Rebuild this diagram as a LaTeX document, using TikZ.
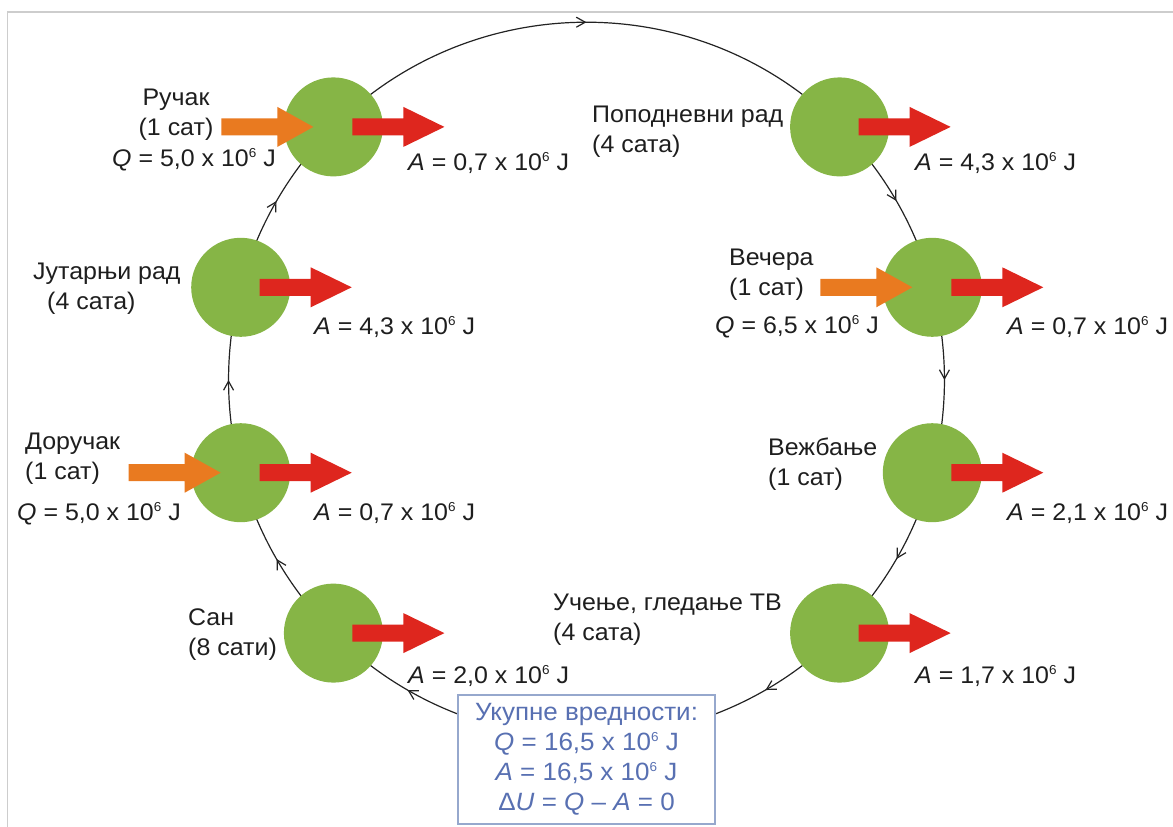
\documentclass[tikz,border=0pt]{standalone}
\usepackage{fontspec}
\setmainfont{Liberation Sans}[FakeStretch=1.04]
\usetikzlibrary{decorations.markings,backgrounds,arrows.meta}
\definecolor{dotgreen}{RGB}{134,181,70}
\definecolor{outred}{RGB}{222,38,30}
\definecolor{inorange}{RGB}{233,122,32}
\definecolor{framegray}{RGB}{205,205,205}
\definecolor{boxblue}{RGB}{88,112,178}
\definecolor{boxline}{RGB}{150,168,205}
\definecolor{cyc}{RGB}{35,35,35}
\definecolor{txt}{RGB}{30,30,30}
\newcommand\pwsix{\raisebox{0.36em}{\fontsize{13}{13}\selectfont 6}}
\tikzset{
  dot/.style={circle, fill=dotgreen, minimum size=99pt, inner sep=0pt},
  lbl/.style={font=\fontsize{24}{30}\selectfont, inner sep=0pt, text=txt},
  cycarc/.style={draw=cyc, line width=1.2pt, postaction={decorate},
    decoration={markings, mark=at position 0.5 with {\arrow{Straight Barb[length=9pt,width=10pt,line width=1.2pt]}}}},
  cycarcb/.style={draw=cyc, line width=1.2pt, postaction={decorate},
    decoration={markings,
      mark=at position 0.1667 with {\arrow{Straight Barb[length=9pt,width=10pt,line width=1.2pt]}},
      mark=at position 0.8333 with {\arrow{Straight Barb[length=9pt,width=10pt,line width=1.2pt]}}}},
  pics/redarr/.style={code={
    \fill[outred] (19,8.5) -- (70,8.5) -- (70,20) -- (111,0) -- (70,-20) -- (70,-8.5) -- (19,-8.5) -- cycle;}},
  pics/orangearr/.style={code={
    \fill[inorange] (-112,8.5) -- (-56,8.5) -- (-56,20) -- (-20,0) -- (-56,-20) -- (-56,-8.5) -- (-112,-8.5) -- cycle;}},
}
\begin{document}
\begin{tikzpicture}[x=1pt,y=-1pt]
\useasboundingbox (0,0) rectangle (1173,827);
\draw[framegray, line width=1.5pt] (7.5,827) -- (7.5,12) -- (1173,12);

% stations
\node[dot] (ru) at (333.4,126.9) {};
\node[dot] (po) at (839.6,126.9) {};
\node[dot] (ve) at (932.3,287.3) {};
\node[dot] (vz) at (932.3,472.7) {};
\node[dot] (uc) at (839.6,633.1) {};
\node[dot] (sa) at (333.4,633.1) {};
\node[dot] (do) at (240.7,472.7) {};
\node[dot] (ju) at (240.7,287.3) {};

% cycle
\begin{pgfonlayer}{background}
\draw[cycarc] (ru.center) to[bend left=45] (po.center);
\draw[cycarc] (po.center) to[bend left=15, looseness=0.866] (ve.center);
\draw[cycarc] (ve.center) to[bend left=15, looseness=0.866] (vz.center);
\draw[cycarc] (vz.center) to[bend left=15, looseness=0.866] (uc.center);
\draw[cycarcb] (uc.center) to[bend left=45] (sa.center);
\draw[cycarc] (sa.center) to[bend left=15, looseness=0.866] (do.center);
\draw[cycarc] (do.center) to[bend left=15, looseness=0.866] (ju.center);
\draw[cycarc] (ju.center) to[bend left=15, looseness=0.866] (ru.center);
\end{pgfonlayer}

% energy arrows
\pic at (ru.center) {orangearr};
\pic at (ve.center) {orangearr};
\pic at (do.center) {orangearr};
\foreach \n in {ru,po,ve,vz,uc,sa,do,ju} { \pic at (\n.center) {redarr}; }

% labels (anchor = baseline of the last line)
\node[lbl, anchor=base, align=center] (tru) at (176,135) {Ручак\\(1 сат)};
\node[lbl, anchor=base west] (qru) at (112,166) {\textit{Q} = 5,0 x 10\pwsix{} J};
\node[lbl, anchor=base west] (aru) at (408,170) {\textit{A} = 0,7 x 10\pwsix{} J};

\node[lbl, anchor=base west, align=left] (tpo) at (592,152) {Поподневни рад\\(4 сата)};
\node[lbl, anchor=base west] (apo) at (915,170) {\textit{A} = 4,3 x 10\pwsix{} J};

\node[lbl, anchor=base west, align=left] (tju) at (33,309) {Јутарњи рад\\\hspace*{14pt}(4 сата)};
\node[lbl, anchor=base west] (aju) at (314,334) {\textit{A} = 4,3 x 10\pwsix{} J};

\node[lbl, anchor=base west, align=left] (tve) at (729,295) {Вечера\\(1 сат)};
\node[lbl, anchor=base west] (qve) at (715,333) {\textit{Q} = 6,5 x 10\pwsix{} J};
\node[lbl, anchor=base west] (ave) at (1007,334) {\textit{A} = 0,7 x 10\pwsix{} J};

\node[lbl, anchor=base west, align=left] (tdo) at (25,479) {Доручак\\(1 сат)};
\node[lbl, anchor=base west] (qdo) at (17,520) {\textit{Q} = 5,0 x 10\pwsix{} J};
\node[lbl, anchor=base west] (ado) at (314,520) {\textit{A} = 0,7 x 10\pwsix{} J};

\node[lbl, anchor=base west, align=left] (tvz) at (768,485) {Вежбање\\(1 сат)};
\node[lbl, anchor=base west] (avz) at (1007,520) {\textit{A} = 2,1 x 10\pwsix{} J};

\node[lbl, anchor=base west, align=left] (tsa) at (188,655) {Сан\\(8 сати)};
\node[lbl, anchor=base west] (asa) at (408,683) {\textit{A} = 2,0 x 10\pwsix{} J};

\node[lbl, anchor=base west, align=left] (tuc) at (553,640) {Учење, гледање ТВ\\(4 сата)};
\node[lbl, anchor=base west] (auc) at (915,683) {\textit{A} = 1,7 x 10\pwsix{} J};

% totals box
\node[draw=boxline, line width=1.2pt, fill=white, minimum width=257pt, minimum height=129pt,
      inner sep=0pt, align=center, text=boxblue, font=\fontsize{25}{30}\selectfont]
  (box) at (586.5,759.5)
  {Укупне вредности:\\ \textit{Q} = 16,5 x 10\pwsix{} J\\ \textit{A} = 16,5 x 10\pwsix{} J\\ Δ\textit{U} = \textit{Q} – \textit{A} = 0};
\end{tikzpicture}
\end{document}
